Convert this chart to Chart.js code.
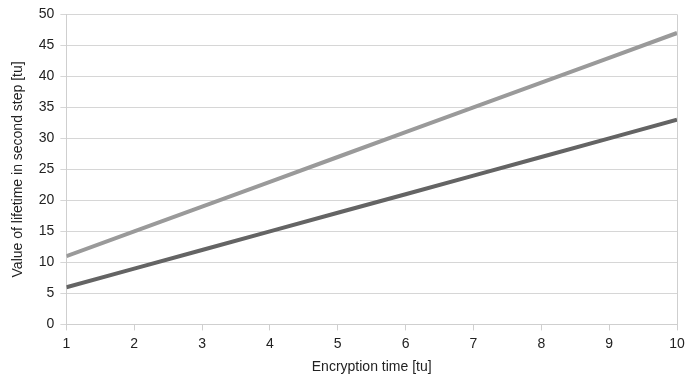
<!DOCTYPE html>
<html>
<head>
<meta charset="utf-8">
<script src="https://cdn.jsdelivr.net/npm/chart.js@4/dist/chart.umd.min.js"></script>
<style>
  html, body { margin: 0; padding: 0; background: #fff; }
  #wrap { width: 685px; height: 378px; }
</style>
</head>
<body>
<div id="wrap"><canvas id="c"></canvas></div>
<script>
// encryption time [tu]
const times = [1, 2, 3, 4, 5, 6, 7, 8, 9, 10];
// lifetime values
const upperSeries = [11, 15, 19, 23, 27, 31, 35, 39, 43, 47];
const lowerSeries = [6, 9, 12, 15, 18, 21, 24, 27, 30, 33];

const toPoints = vals => vals.map((v, i) => ({ x: times[i], y: v }));
const font = { family: 'Liberation Sans, Arial, sans-serif', size: 14 };

new Chart(document.getElementById('c'), {
  type: 'line',
  data: {
    datasets: [
      { data: toPoints(upperSeries), borderColor: '#9a9a9a', borderWidth: 4, pointRadius: 0, tension: 0 },
      { data: toPoints(lowerSeries), borderColor: '#646464', borderWidth: 4, pointRadius: 0, tension: 0 }
    ]
  },
  options: {
    responsive: true,
    maintainAspectRatio: false,
    animation: false,
    layout: { padding: { top: 10, right: 0, left: 6, bottom: 2 } },
    plugins: { legend: { display: false }, tooltip: { enabled: false } },
    scales: {
      x: {
        type: 'linear', min: 1, max: 10,
        afterFit: s => { s.paddingRight = 8; },
        ticks: { stepSize: 1, color: '#222', font: font, padding: 5 },
        grid: {
          color: c => (c.tick && (c.tick.value === 1 || c.tick.value === 10)) ? '#cfcfcf' : 'rgba(0,0,0,0)',
          tickColor: '#cfcfcf', tickLength: 6
        },
        border: { color: '#cfcfcf' },
        title: { display: true, text: 'Encryption time [tu]', color: '#222', font: font, padding: { top: 2, bottom: 0 } }
      },
      y: {
        min: 0, max: 50,
        ticks: { stepSize: 5, color: '#222', font: font, padding: 6 },
        grid: { color: '#d6d6d6', tickColor: '#d6d6d6', tickLength: 6 },
        border: { color: '#cfcfcf' },
        title: { display: true, text: 'Value of lifetime in second step [tu]', color: '#222', font: font, padding: { bottom: 6 } }
      }
    }
  }
});
</script>
</body>
</html>
